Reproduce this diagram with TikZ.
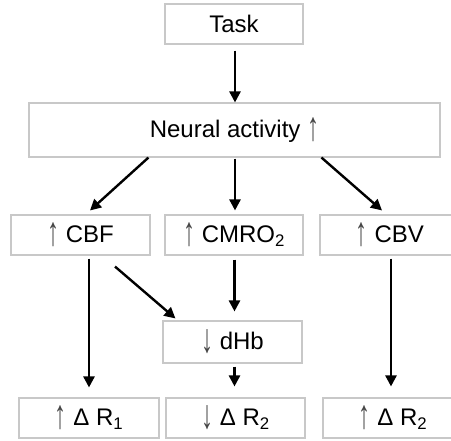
\documentclass[tikz,border=0pt]{standalone}
\usepackage{fontspec}
\setmainfont{Liberation Sans}
\usetikzlibrary{arrows.meta,calc}
\definecolor{boxgray}{RGB}{200,200,200}
\definecolor{arrgray}{RGB}{70,70,70}
\newcommand{\upar}{\raisebox{-0.14em}{\textcolor{arrgray}{\scalebox{1}[1.7]{↑}}}}
\newcommand{\dnar}{\raisebox{-0.14em}{\textcolor{arrgray}{\scalebox{1}[1.7]{↓}}}}
\begin{document}
\begin{tikzpicture}[x=1pt,y=-1pt,
  box/.style={draw=boxgray,line width=1.1pt,fill=white,minimum height=40pt,inner sep=0pt,font=\fontsize{24}{26}\selectfont},
  arr/.style={line width=2.4pt,-{Triangle[length=11pt,width=11pt]}}]
\useasboundingbox (0,0) rectangle (451,441);
\begin{scope}
\clip (0,0) rectangle (451,441);
\node[box,minimum width=138pt] (task) at (234,24) {Task};
\node[box,minimum width=411pt,minimum height=54pt] (neural) at (234.5,130) {Neural activity \upar};
\node[box,minimum width=139pt] (cbf) at (80.5,235) {\upar\ CBF};
\node[box,minimum width=138pt] (cmro) at (234,235) {\upar\ CMRO\textsubscript{2}};
\node[box,minimum width=140pt] (cbv) at (390,235) {\upar\ CBV};
\node[box,minimum width=139pt,minimum height=42pt] (dhb) at (232.5,342) {\dnar\ dHb};
\node[box,minimum width=140pt] (r1) at (89,418) {\upar\ Δ R\textsubscript{1}};
\node[box,minimum width=139pt] (r2m) at (235.5,418) {\dnar\ Δ R\textsubscript{2}};
\node[box,minimum width=140pt] (r2r) at (393,418) {\upar\ Δ R\textsubscript{2}};
\end{scope}
\draw[arr] ($(task.south)+(1,6)$) -- ($(neural.north)+(0.5,0)$);
\draw[arr] ($(neural.south west)+(120,0)$) -- ($(cbf.north)+(9.5,-4)$);
\draw[arr] ($(neural.south)+(0.5,1)$) -- ($(cmro.north)+(1,-4)$);
\draw[arr] ($(neural.south west)+(293,0)$) -- ($(cbv.north)+(-8,-4)$);
\draw[arr] ($(cbf.south)+(8.5,3)$) -- ($(r1.north)+(0,-10)$);
\draw[arr] ($(cbf.south)+(34.5,11)$) -- ($(dhb.north west)+(13,-2)$);
\draw[arr] ($(cmro.south)+(0.5,4)$) -- ($(dhb.north)+(2,-9)$);
\draw[arr] ($(dhb.south)+(2,3)$) -- ($(r2m.north)+(-1,-11)$);
\draw[arr] ($(cbv.south)+(1,3)$) -- ($(r2r.north)+(-2,-11)$);
\end{tikzpicture}
\end{document}
